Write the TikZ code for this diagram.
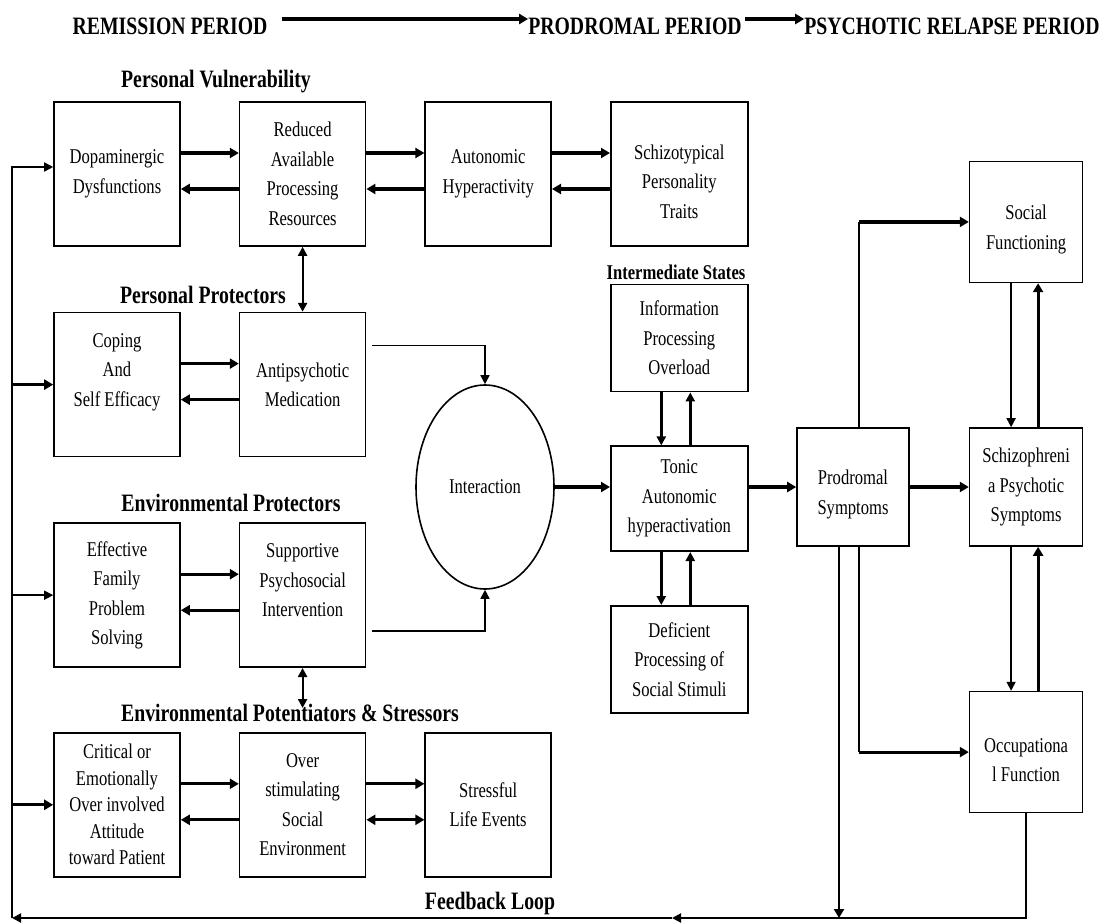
\documentclass[tikz,border=0pt]{standalone}
\usepackage{fontspec}
\setmainfont{Liberation Serif}[FakeStretch=0.79]
\usetikzlibrary{positioning, shapes.geometric, arrows.meta, calc}

\begin{document}
\begin{tikzpicture}[
	x=1pt, y=-1pt,
	node distance=58pt,
	% --- Styles ---
	block/.style={
		rectangle, draw, line width=1.6pt, minimum width=126pt, minimum height=144pt,
		inner sep=0pt, align=center, font=\fontsize{21}{29.5}\selectfont
	},
	wideblock/.style={block, minimum width=137pt},
	outcome/.style={block, minimum width=113pt, minimum height=121pt},
	heading/.style={font=\bfseries\fontsize{25}{30}\selectfont, inner sep=0pt},
	thickarrow/.style={draw, line width=3.2pt, -{Triangle[length=9pt,width=10pt]}},
	medarrow/.style={draw, line width=2.4pt, -{Triangle[length=9pt,width=9pt]}},
	thinarrow/.style={draw, line width=1.6pt, -{Triangle[length=9pt,width=9pt]}},
	twoway/.style={draw, line width=2.2pt, {Triangle[length=9pt,width=9pt]}-{Triangle[length=9pt,width=9pt]}},
	wire/.style={draw, line width=1.6pt}
	]
	
	\useasboundingbox (0,0) rectangle (1112,924);
	
	% --- 1. Period titles ---
	\node [heading] (t_rem) at (170,26) {REMISSION PERIOD};
	\node [heading] (t_prod) at (635,26) {PRODROMAL PERIOD};
	\node [heading] (t_psy) at (952,26) {PSYCHOTIC RELAPSE PERIOD};
	\draw [thickarrow] ([xshift=14pt,yshift=7pt]t_rem.east) -- ([yshift=7pt]t_prod.west);
	\draw [thickarrow] ([xshift=3pt,yshift=7pt]t_prod.east) -- ([yshift=7pt]t_psy.west);
	
	% --- 2. Group headings ---
	\node [heading] (h_vul) at (216,82) {Personal Vulnerability};
	\node [heading] (h_pp) at (203,295) {Personal Protectors};
	\node [heading] (h_ep) at (231,503) {Environmental Protectors};
	\node [heading] (h_eps) at (290,713) {Environmental Potentiators \& Stressors};
	\node [heading, font=\bfseries\fontsize{21}{25}\selectfont] (h_int) at (676,272) {Intermediate States};
	\node [heading] (h_fb) at (490,903) {Feedback Loop};
	
	% --- 3. Left blocks ---
	\node [block] (dopa) at (117,174) {Dopaminergic\\Dysfunctions};
	\node [block, right=of dopa] (reduced) {Reduced\\Available\\Processing\\Resources};
	\node [block, right=of reduced] (auto) {Autonomic\\Hyperactivity};
	\node [wideblock, right=of auto] (schizotyp) {\mbox{}\\Schizotypical\\Personality\\Traits};
	
	\node [block, below=65pt of dopa] (coping) {Coping\\And\\Self Efficacy\\\mbox{}};
	\node [block, right=of coping] (antip) {Antipsychotic\\Medication};
	
	\node [block, below=65pt of coping] (family) {Effective\\Family\\Problem\\Solving};
	\node [block, right=of family] (support) {Supportive\\Psychosocial\\Intervention\\\mbox{}};
	
	\node [block, below=64pt of family, font=\fontsize{21}{26.5}\selectfont] (critical) {Critical or\\Emotionally\\Over involved\\Attitude\\toward Patient};
	\node [block, right=of critical] (overstim) {Over\\stimulating\\Social\\Environment};
	\node [block, right=of overstim] (stress) {Stressful\\Life Events};
	
	% --- 4. Interaction and intermediate states ---
	\node [ellipse, draw, line width=1.6pt, minimum width=138pt, minimum height=204pt,
	inner sep=0pt, font=\fontsize{21}{29.5}\selectfont] (inter) at (485,487) {Interaction};
	
	\node [wideblock, minimum height=107pt, below=37pt of schizotyp] (overload) {Information\\Processing\\Overload};
	\node [wideblock, minimum height=105pt, below=53pt of overload] (tonic) {Tonic\\Autonomic\\hyperactivation};
	\node [wideblock, minimum height=107pt, below=53pt of tonic] (deficient) {Deficient\\Processing of\\Social Stimuli};
	
	% --- 5. Outcomes ---
	\node [block, minimum width=112pt, minimum height=118pt] (prodromal) at (853,487) {\mbox{}\\Prodromal\\Symptoms};
	\node [outcome, minimum height=118pt, right=59pt of prodromal] (psychotic) {Schizophreni\\a Psychotic\\Symptoms};
	\node [outcome, above=144pt of psychotic] (social) {\mbox{}\\Social\\Functioning};
	\node [outcome, below=144pt of psychotic] (occupational) {\mbox{}\\Occupationa\\l Function};
	
	% --- 6. Connections ---
	% forward arrows (upper) and backward arrows (lower)
	\foreach \a/\b in {dopa/reduced, reduced/auto, auto/schizotyp, coping/antip, family/support, critical/overstim, overstim/stress} {
		\draw [thickarrow] ([yshift=21pt]\a.east) -- ([yshift=21pt]\b.west);
	}
	\foreach \a/\b in {reduced/dopa, auto/reduced, schizotyp/auto, antip/coping, support/family, overstim/critical} {
		\draw [thickarrow] ([yshift=-15pt]\a.west) -- ([yshift=-15pt]\b.east);
	}
	\draw [thickarrow, {Triangle[length=9pt,width=10pt]}-{Triangle[length=9pt,width=10pt]}] ([yshift=-15pt]overstim.east) -- ([yshift=-15pt]stress.west);
	
	% vertical links between groups
	\draw [twoway] (reduced.south) -- (antip.north);
	\draw [twoway] (support.south) -- ([yshift=24pt]overstim.north);
	
	% into and out of the interaction
	\draw [thinarrow] ([xshift=6pt,yshift=39pt]antip.east) -| (inter.north);
	\draw [thinarrow] ([xshift=6pt,yshift=-36pt]support.east) -| (inter.south);
	\draw [thickarrow] (inter.east) -- (inter.east -| tonic.west);
	
	% intermediate states
	\foreach \u/\d in {overload/tonic, tonic/deficient} {
		\draw [medarrow] ([xshift=-18pt]\u.south) -- ([xshift=-18pt]\d.north);
		\draw [medarrow] ([xshift=11pt]\d.north) -- ([xshift=11pt]\u.south);
	}
	\draw [thickarrow] (prodromal.west -| tonic.east) -- (prodromal.west);
	\draw [thickarrow] (prodromal.east) -- (psychotic.west);
	
	% prodromal symptoms to functioning
	\coordinate (pro_up) at ([xshift=6pt]prodromal.north |- social.west);
	\coordinate (pro_dn) at ([xshift=6pt]prodromal.south |- occupational.west);
	\draw [wire] ([xshift=6pt]prodromal.north) -- (pro_up);
	\draw [thickarrow] (pro_up) -- (social.west);
	\draw [wire] ([xshift=6pt]prodromal.south) -- (pro_dn);
	\draw [thickarrow] (pro_dn) -- (occupational.west);
	
	% psychotic symptoms and functioning
	\draw [thinarrow] ([xshift=-15pt]social.south) -- ([xshift=-15pt]psychotic.north);
	\draw [thickarrow] ([xshift=12pt]psychotic.north) -- ([xshift=12pt]social.south);
	\draw [thinarrow] ([xshift=-15pt]psychotic.south) -- ([xshift=-15pt]occupational.north);
	\draw [thickarrow] ([xshift=12pt]occupational.north) -- ([xshift=12pt]psychotic.south);
	
	% --- 7. Feedback loop ---
	\coordinate (loop_sw) at (12,918);
	\coordinate (loop_mid) at (672,918);
	\draw [thinarrow, line width=2pt] (occupational.south) |- (loop_mid);
	\draw [thinarrow, line width=2pt] (loop_mid) -- (loop_sw);
	\draw [thickarrow, line width=2.6pt] ([xshift=-14pt]prodromal.south) -- ([xshift=-14pt]prodromal.south |- loop_sw);
	
	\draw [thinarrow] (loop_sw) |- ([yshift=7pt]dopa.west);
	\draw [thickarrow] (loop_sw |- coping.west) -- (coping.west);
	\draw [thinarrow] (loop_sw |- family.west) -- (family.west);
	\draw [thickarrow] (loop_sw |- critical.west) -- (critical.west);
	
\end{tikzpicture}
\end{document}
